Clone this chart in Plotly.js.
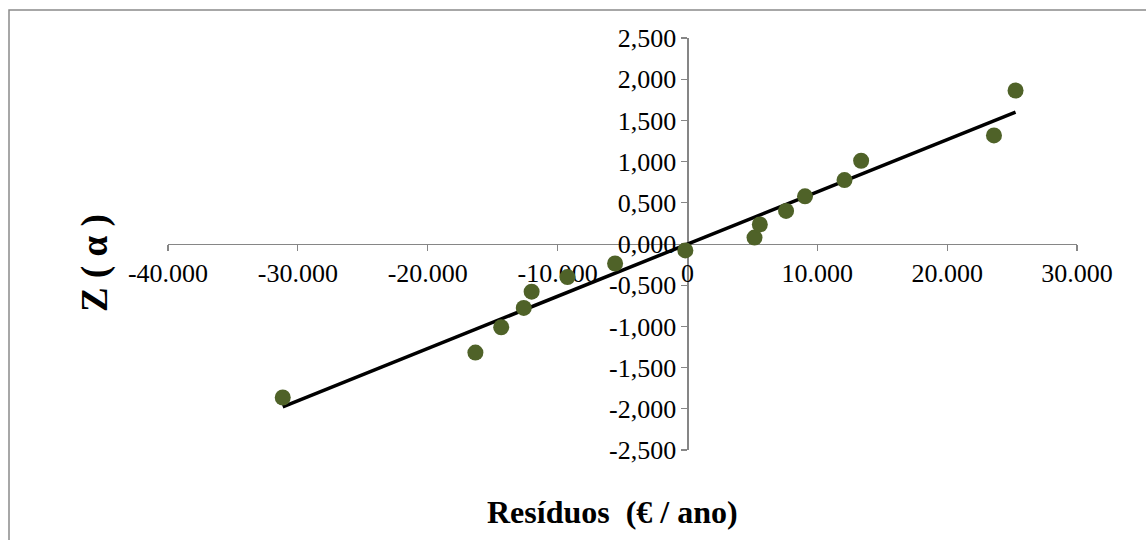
<!DOCTYPE html>
<html>
<head>
<meta charset="utf-8">
<script src="https://cdn.plot.ly/plotly-3.0.1.min.js"></script>
<style>
  html, body { margin: 0; padding: 0; background: #ffffff; }
  #chart { width: 1146px; height: 540px; }
</style>
</head>
<body>
<div id="chart"></div>
<script>
// Residuals (€ / ano) sorted ascending, with their normal scores Z(α)
const residuals = [-31164, -16327, -14341, -12604, -11997, -9239, -5571, -160,
                   5166, 5575, 7596, 9054, 12097, 13376, 23606, 25269];
const zScores = [-1.863, -1.318, -1.010, -0.776, -0.579, -0.402, -0.237, -0.078,
                 0.078, 0.237, 0.402, 0.579, 0.776, 1.010, 1.318, 1.863];

// Axis ticks and their labels (comma decimal, dot thousands)
const xTickVals = [-40000, -30000, -20000, -10000, 0, 10000, 20000, 30000];
const xTickText = ['-40.000', '-30.000', '-20.000', '-10.000', '0', '10.000', '20.000', '30.000'];
const yTickVals = [-2.5, -2, -1.5, -1, -0.5, 0, 0.5, 1, 1.5, 2, 2.5];
const yTickText = ['-2,500', '-2,000', '-1,500', '-1,000', '-0,500', '0,000',
                   '0,500', '1,000', '1,500', '2,000', '2,500'];

const xTitle = 'Resíduos \u00a0(€ / ano)';
const yTitle = 'Z ( α )';

// Least-squares linear trend of Z on the residuals
const n = residuals.length;
const mx = residuals.reduce((a, b) => a + b, 0) / n;
const my = zScores.reduce((a, b) => a + b, 0) / n;
let sxy = 0, sxx = 0;
for (let i = 0; i < n; i++) {
  sxy += (residuals[i] - mx) * (zScores[i] - my);
  sxx += (residuals[i] - mx) * (residuals[i] - mx);
}
const slope = sxy / sxx;
const intercept = my - slope * mx;
const xMin = Math.min(...residuals);
const xMax = Math.max(...residuals);
const trendX = [xMin, xMax];
const trendY = trendX.map(x => intercept + slope * x);

const serif = 'Liberation Serif, Times New Roman, serif';
const axisGrey = '#868686';

const traces = [
  {
    x: trendX, y: trendY, type: 'scatter', mode: 'lines',
    line: { color: '#000000', width: 3.5 },
    hoverinfo: 'skip', showlegend: false
  },
  {
    x: residuals, y: zScores, type: 'scatter', mode: 'markers',
    marker: { color: '#4F6228', size: 16, line: { width: 0 } },
    showlegend: false
  }
];

const layout = {
  width: 1146, height: 540,
  margin: { l: 168, r: 69, t: 38, b: 90, pad: 0 },
  paper_bgcolor: '#ffffff', plot_bgcolor: '#ffffff',
  font: { family: serif, color: '#000000', size: 26 },
  showlegend: false,
  xaxis: {
    range: [-40000, 30000],
    anchor: 'free', position: 0.5,
    showgrid: false, zeroline: false,
    showline: true, linecolor: axisGrey, linewidth: 1.2,
    ticks: 'outside', ticklen: 6, tickcolor: axisGrey, tickwidth: 1.2,
    tickmode: 'array', tickvals: xTickVals, ticktext: xTickText,
    tickfont: { family: serif, size: 26, color: '#000000' },
    layer: 'below traces'
  },
  yaxis: {
    range: [-2.5, 2.5],
    anchor: 'free', position: 40000 / 70000,
    showgrid: false, zeroline: false,
    showline: true, linecolor: axisGrey, linewidth: 1.2,
    ticks: 'outside', ticklen: 6, tickcolor: axisGrey, tickwidth: 1.2,
    tickmode: 'array', tickvals: yTickVals, ticktext: yTickText,
    tickfont: { family: serif, size: 26, color: '#000000' },
    layer: 'below traces'
  },
  annotations: [
    {
      text: '<b>' + xTitle + '</b>', xref: 'paper', yref: 'paper',
      x: (612 - 168) / 909, y: (450 - 512) / 412,
      xanchor: 'center', yanchor: 'middle', showarrow: false,
      font: { family: serif, size: 32, color: '#000000' }
    },
    {
      text: '<b>' + yTitle + '</b>', xref: 'paper', yref: 'paper',
      x: (95 - 168) / 909, y: (450 - 263) / 412,
      xanchor: 'center', yanchor: 'middle', showarrow: false, textangle: -90,
      font: { family: serif, size: 37, color: '#000000' }
    }
  ],
  shapes: [
    {
      type: 'rect', xref: 'paper', yref: 'paper',
      x0: (9 - 168) / 909, x1: (1160 - 168) / 909,
      y0: (450 - 560) / 412, y1: (450 - 10) / 412,
      line: { color: '#8a8a8a', width: 1.5 }, fillcolor: 'rgba(0,0,0,0)',
      layer: 'below'
    }
  ]
};

Plotly.newPlot('chart', traces, layout, { staticPlot: true, displayModeBar: false });
</script>
</body>
</html>
